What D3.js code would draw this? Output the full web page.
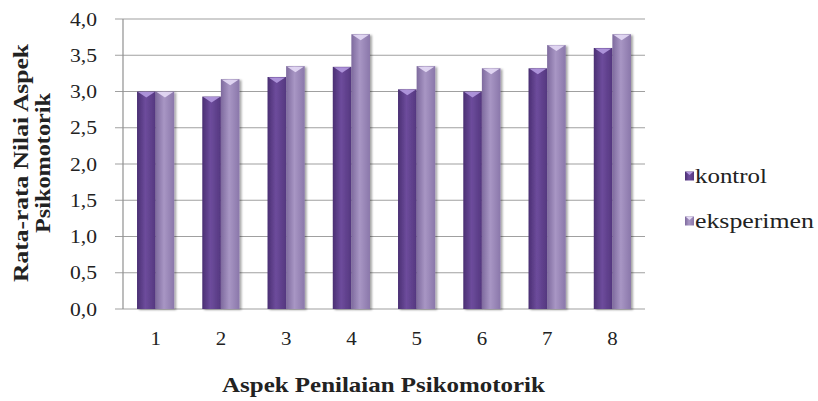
<!DOCTYPE html>
<html><head><meta charset="utf-8">
<script src="https://cdn.jsdelivr.net/npm/d3@7"></script>
<style>body{margin:0;background:#fff}svg{display:block}</style>
</head><body>
<svg id="c" width="818" height="401"></svg>
<script>
const categories = ["1","2","3","4","5","6","7","8"];
const seriesNames = ["kontrol","eksperimen"];
const kontrol = [3.00, 2.93, 3.20, 3.34, 3.03, 3.00, 3.32, 3.60];
const eksperimen = [3.00, 3.17, 3.35, 3.79, 3.35, 3.32, 3.64, 3.79];
const yTicks = [0,0.5,1,1.5,2,2.5,3,3.5,4];

const FF = '"Liberation Serif"';
const svg = d3.select("#c");
const m = {l:123, r:645, t:19, b:309};
const x = d3.scaleBand().domain(categories).range([m.l, m.r]).paddingInner(0.43).paddingOuter(0.215);
const xs = d3.scaleBand().domain(seriesNames).range([0, x.bandwidth()]);
const y = d3.scaleLinear().domain([0,4]).range([m.b, m.t]);
const fmt = v => d3.format(".1f")(v).replace(".", ",");

function stretched(parent, str, px, py, opts) {
  const g = parent.append("g");
  const t = g.append("text").style("font-family",FF).attr("font-size",opts.size).attr("fill","#222")
    .attr("font-weight",opts.bold?"bold":"normal").attr("text-anchor",opts.anchor||"start")
    .attr("dy",opts.dy||0).text(str);
  const w = t.node().getComputedTextLength();
  const sx = opts.width ? opts.width / w : (opts.sx || 1);
  g.attr("transform",`translate(${px},${py}) rotate(${opts.rot||0}) scale(${sx},1)`);
  return g;
}

const defs = svg.append("defs");
const cols = {kontrol:["#4a2f73","#6d4c9c","#54377f"], eksperimen:["#7e6a9e","#a896c4","#8a77aa"]};
const caps = {kontrol:"#b49ae0", eksperimen:"#e6dcf6"};
seriesNames.forEach(s=>{
  const g = defs.append("linearGradient").attr("id","g-"+s).attr("x1","0").attr("x2","1").attr("y1","0").attr("y2","0");
  g.append("stop").attr("offset","0").attr("stop-color",cols[s][0]);
  g.append("stop").attr("offset","0.45").attr("stop-color",cols[s][1]);
  g.append("stop").attr("offset","1").attr("stop-color",cols[s][2]);
});
const f = defs.append("filter").attr("id","sh").attr("x","-20%").attr("y","-5%").attr("width","150%").attr("height","115%");
f.append("feDropShadow").attr("dx",2).attr("dy",1).attr("stdDeviation",1.2).attr("flood-color","#000").attr("flood-opacity",0.35);

svg.append("g").selectAll("line").data(yTicks).join("line")
  .attr("x1", m.l-8).attr("x2", m.r).attr("y1", d=>y(d)).attr("y2", d=>y(d))
  .attr("stroke","#a0a0a0").attr("stroke-width",1.2);
svg.append("line").attr("x1",m.l).attr("x2",m.l).attr("y1",m.t).attr("y2",m.b).attr("stroke","#909090").attr("stroke-width",1.2);

const yl = svg.append("g");
yTicks.forEach(v => stretched(yl, fmt(v), 97, y(v), {size:19, anchor:"end", dy:"0.35em", width:27}));

const data = categories.map((c,i)=>({c, vals:[{s:"kontrol",v:kontrol[i]},{s:"eksperimen",v:eksperimen[i]}]}));
const grp = svg.append("g").selectAll("g").data(data).join("g").attr("transform", d=>`translate(${x(d.c)},0)`);
const bar = grp.selectAll("g").data(d=>d.vals).join("g");
bar.append("rect").attr("x", d=>xs(d.s)).attr("width", xs.bandwidth()).attr("y", d=>y(d.v)).attr("height", d=>y(0)-y(d.v))
  .attr("fill", d=>`url(#g-${d.s})`).attr("filter","url(#sh)");
bar.append("path").attr("d", d=>{
  const x0 = xs(d.s), w = xs.bandwidth(), t = y(d.v);
  return `M${x0+1},${t+0.5}L${x0+w-1},${t+0.5}L${x0+w/2},${t+6}Z`;
}).attr("fill", d=>caps[d.s]).attr("opacity",0.9);

const xl = svg.append("g");
categories.forEach(c => stretched(xl, c, x(c)+x.bandwidth()/2, 345, {size:19, anchor:"middle", sx:1.1}));

stretched(svg, "Aspek Penilaian Psikomotorik", 383.5, 392, {size:21, bold:true, anchor:"middle", width:323});
stretched(svg, "Rata-rata Nilai Aspek", 28, 163, {size:21, bold:true, anchor:"middle", rot:-90, width:238});
stretched(svg, "Psikomotorik", 50, 163, {size:21, bold:true, anchor:"middle", rot:-90, width:140});

const lg = svg.append("g").selectAll("g").data(seriesNames).join("g").attr("transform",(d,i)=>`translate(685,${176+i*45})`);
lg.append("rect").attr("x",0).attr("y",-4.5).attr("width",9).attr("height",9).attr("fill",d=>`url(#g-${d})`);
lg.append("path").attr("d","M1,-4L8,-4L4.5,-1Z").attr("fill",d=>caps[d]);
lg.each(function(d,i){ stretched(d3.select(this), d, 10, 0, {size:20, dy:"0.35em", width: i?119:72}); });
</script>
</body></html>
